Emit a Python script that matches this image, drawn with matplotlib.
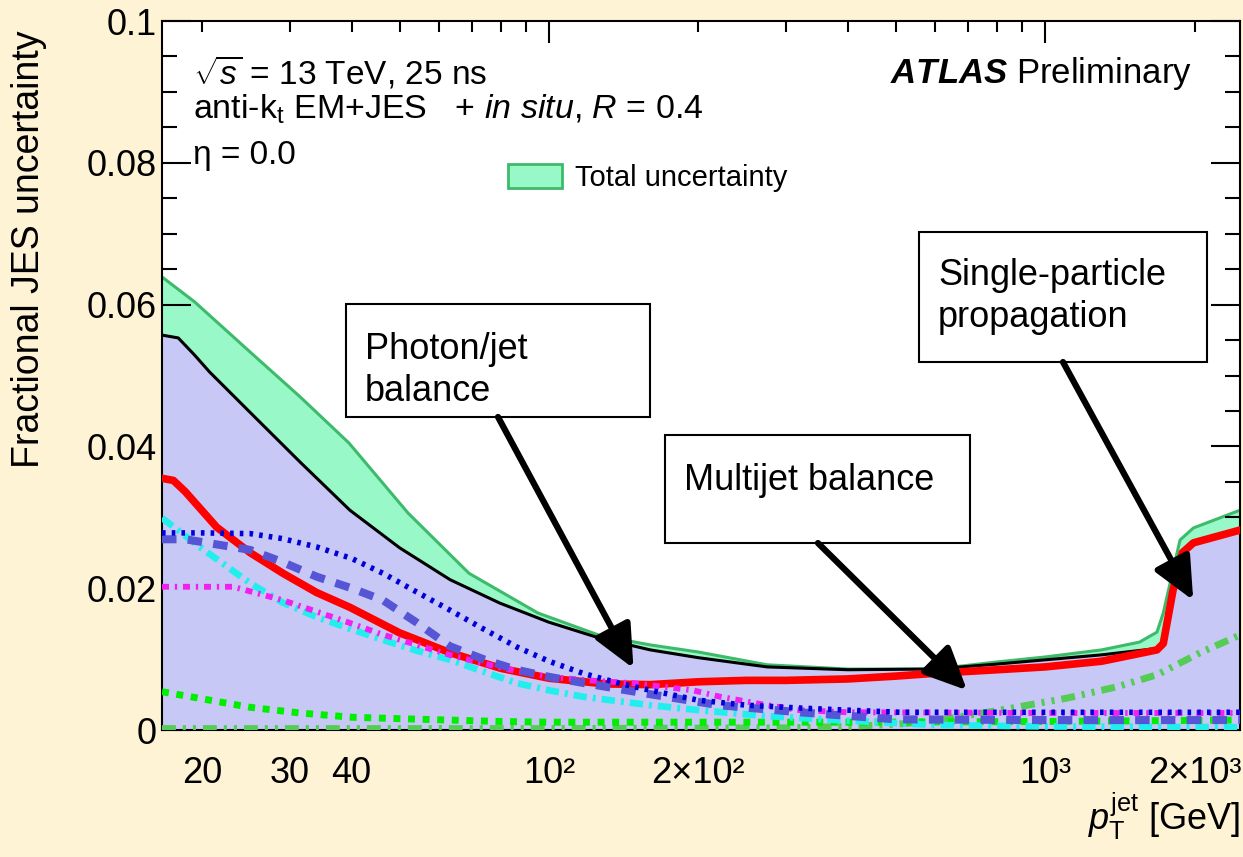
import matplotlib
matplotlib.use('Agg')
import matplotlib.pyplot as plt
import numpy as np
from matplotlib.patches import Patch, Rectangle
from matplotlib.ticker import FixedLocator, FixedFormatter, MultipleLocator, FuncFormatter

plt.rcParams['font.family'] = ['Liberation Sans', 'DejaVu Sans']
plt.rcParams['mathtext.fontset'] = 'custom'
plt.rcParams['mathtext.rm'] = 'Liberation Sans'
plt.rcParams['mathtext.it'] = 'Liberation Sans:italic'
plt.rcParams['mathtext.bf'] = 'Liberation Sans:bold'
plt.rcParams['mathtext.bfit'] = 'Liberation Sans:italic:bold'

# ---- data (pT in GeV, fractional uncertainty) ----
pt_total = [16.6, 19.3, 25, 31.5, 39.5, 52, 69, 95, 127, 160, 200, 275, 400, 600,
            800, 1000, 1300, 1550, 1680, 1730, 1810, 1870, 1990, 2470]
total = [0.0639, 0.0604, 0.0533, 0.0470, 0.0405, 0.0306, 0.0221, 0.0165, 0.0133,
         0.0120, 0.0110, 0.0092, 0.0086, 0.0086, 0.0096, 0.0103, 0.0113, 0.0124,
         0.0138, 0.0165, 0.0225, 0.0268, 0.0285, 0.0310]

pt_insitu = [16.6, 17.9, 19.3, 20.7, 24.9, 31.5, 39.7, 50, 63.2, 79.6, 100, 126, 160,
             200, 275, 400, 600, 800, 1000, 1300, 1680, 1730, 1810, 1890, 1990, 2470]
insitu = [0.0557, 0.0553, 0.0529, 0.0505, 0.0449, 0.0378, 0.0310, 0.0257, 0.0212,
          0.0179, 0.0152, 0.0130, 0.0113, 0.0102, 0.0089, 0.0085, 0.0086, 0.0093,
          0.0099, 0.0106, 0.0115, 0.0124, 0.0199, 0.0252, 0.0266, 0.0284]

pt_red = [16.6, 17.5, 18.5, 21.4, 25, 29.1, 34, 39.7, 50, 63.2, 80, 100, 130, 160, 200,
          250, 300, 400, 500, 600, 800, 1000, 1300, 1680, 1730, 1810, 1890, 1990, 2470]
red = [0.0355, 0.0352, 0.0336, 0.0286, 0.0250, 0.0221, 0.0194, 0.0173, 0.0137, 0.0109,
       0.0087, 0.0073, 0.0065, 0.0064, 0.0068, 0.0070, 0.0070, 0.0072, 0.0076,
       0.0080, 0.0085, 0.0089, 0.0097, 0.0113, 0.0122, 0.0197, 0.0250, 0.0264, 0.0282]

pt_bdot = [16.6, 20, 25, 29, 34.1, 40, 46.3, 54, 63.2, 74, 86.2, 100, 117, 140, 160,
           200, 250, 320, 400, 510, 1000, 2470]
bdot = [0.0278, 0.0278, 0.0277, 0.0270, 0.0258, 0.0242, 0.0221, 0.0195, 0.0169,
        0.0142, 0.0117, 0.0097, 0.0080, 0.0065, 0.0056, 0.0042, 0.0035, 0.0031,
        0.0028, 0.0025, 0.0025, 0.0025]

pt_slate = [16.6, 18.5, 25, 29, 34.1, 40, 46.3, 54, 63.2, 75, 86, 100, 118, 155, 220,
            320, 500, 1000, 2470]
slate = [0.0269, 0.0269, 0.0254, 0.0237, 0.0216, 0.0200, 0.0183, 0.0152, 0.0118,
         0.0098, 0.0085, 0.0075, 0.0066, 0.0052, 0.0035, 0.0025, 0.0015, 0.0014, 0.0014]

pt_cyan = [16.6, 19.8, 25, 29, 34.1, 40, 46.3, 54, 63.2, 74, 86.2, 100, 117, 160, 200,
           270, 380, 600, 1000, 2470]
cyan = [0.0299, 0.0258, 0.0207, 0.0180, 0.0159, 0.0142, 0.0127, 0.0112, 0.0099,
        0.0082, 0.0066, 0.0056, 0.0047, 0.0035, 0.0028, 0.0020, 0.0014, 0.0007,
        0.0005, 0.0004]

pt_mag = [16.6, 23.1, 29.1, 34, 39.7, 46, 54.2, 63, 73.6, 86, 100, 120, 148, 195, 221,
          270, 320, 400, 1000, 2470]
mag = [0.0202, 0.0202, 0.0183, 0.0167, 0.0151, 0.0135, 0.0120, 0.0106, 0.0094,
       0.0083, 0.0075, 0.0070, 0.0066, 0.0056, 0.0047, 0.0036, 0.0028, 0.0025,
       0.0024, 0.0024]

pt_gdot = [16.6, 20, 25, 31.5, 40, 50, 63, 80, 100, 160, 400, 1000, 2470]
gdot = [0.0054, 0.0044, 0.0032, 0.0024, 0.0018, 0.0016, 0.0014, 0.0012, 0.0011,
        0.0011, 0.0011, 0.0012, 0.0014]

pt_gdd = [16.6, 100, 300, 400, 500, 600, 811, 1107, 1397, 1682, 2053, 2470]
gdd = [0.0002, 0.0002, 0.0003, 0.0005, 0.0008, 0.0013, 0.0028, 0.0045, 0.0061,
       0.0078, 0.0109, 0.0134]

# ---- figure ----
cream = '#FFF3D6'
fig = plt.figure(figsize=(12.43, 8.57), dpi=100, facecolor=cream)
ax = fig.add_axes([0.13033, 0.14819, 0.86726, 0.82730])
ax.set_facecolor('white')

ax.fill_between(pt_total, 0, total, facecolor='#99F8C8', edgecolor='none', zorder=1)
ax.plot(pt_total, total, color='#3DBB6B', lw=2.2, zorder=1.5)
ax.fill_between(pt_insitu, 0, insitu, facecolor='#C8C8F6', edgecolor='none', zorder=2)
ax.plot(pt_insitu, insitu, color='black', lw=2.2, zorder=2.5)

ax.plot(pt_red, red, color='#FF0000', lw=5.5, zorder=3)
ax.plot(pt_gdd, gdd, color='#55CC55', lw=5, zorder=3.1,
        linestyle=(0, (2.0, 1.0, 0.45, 1.0, 0.45, 1.0)))
ax.plot(pt_gdot, gdot, color='#00EE00', lw=5, zorder=3.2, linestyle=(0, (1.0, 1.1)))
ax.plot(pt_cyan, cyan, color='#22EEEE', lw=4.8, zorder=3.3,
        linestyle=(0, (2.0, 0.9, 0.45, 0.9)))
ax.plot(pt_mag, mag, color='#F020F0', lw=4.2, zorder=3.4,
        linestyle=(0, (1.2, 1.0, 0.4, 1.0)))
ax.plot(pt_slate, slate, color='#5555D5', lw=5.8, zorder=3.5, linestyle=(0, (1.8, 1.4)))
ax.plot(pt_bdot, bdot, color='#0000DD', lw=4.0, zorder=3.6, linestyle=(0, (0.65, 1.1)))

# ---- axes ----
ax.set_xscale('log')
ax.set_xlim(16.6, 2470)
ax.set_ylim(0, 0.1)

ax.xaxis.set_major_locator(FixedLocator([100, 1000]))
ax.xaxis.set_major_formatter(FixedFormatter(['10²', '10³']))
minor_pos = [k * 10 ** e for e in (1, 2, 3) for k in range(2, 10)]
minor_lab = {20: '20', 30: '30', 40: '40', 200: '2×10²', 2000: '2×10³'}
ax.xaxis.set_minor_locator(FixedLocator(minor_pos))
ax.xaxis.set_minor_formatter(FuncFormatter(lambda v, p: minor_lab.get(int(round(v)), '')))

ax.yaxis.set_major_locator(MultipleLocator(0.02))
ax.yaxis.set_minor_locator(MultipleLocator(0.005))
ax.yaxis.set_major_formatter(FuncFormatter(lambda v, p: '%g' % round(v, 3)))

ax.tick_params(which='both', direction='in', top=True, right=True, width=1.5,
               labelsize=26, colors='black')
ax.tick_params(axis='y', which='major', length=21, pad=4)
ax.tick_params(axis='y', which='minor', length=11)
ax.tick_params(axis='x', which='major', length=16, pad=19)
ax.tick_params(axis='x', which='minor', length=8, pad=19)
for s in ax.spines.values():
    s.set_linewidth(1.5)

ax.set_ylabel('Fractional JES uncertainty', fontsize=27, loc='top')
ax.yaxis.set_label_coords(-0.107, 0.987)
ax.set_xlabel(r'$p_{\mathrm{T}}^{\mathrm{jet}}$ [GeV]', fontsize=26, loc='right')
ax.xaxis.set_label_coords(1.0, -0.085)

# ---- labels ----
ax.text(0.029, 0.9125, r'$\sqrt{s}$ = 13 TeV, 25 ns', transform=ax.transAxes,
        fontsize=24, va='baseline')
ax.text(0.029, 0.8618, r'anti-k$_{\mathrm{t}}$ EM+JES   + $\mathit{in\ situ}$, $\mathit{R}$ = 0.4',
        transform=ax.transAxes, fontsize=24.5, va='baseline')
ax.text(0.029, 0.798, 'η = 0.0', transform=ax.transAxes, fontsize=24, va='baseline')
ax.text(0.9555, 0.9125, r'$\mathbfit{ATLAS}$ Preliminary', transform=ax.transAxes,
        fontsize=25, ha='right', va='baseline')

ax.legend(handles=[Patch(facecolor='#99F8C8', edgecolor='#3DBB6B', lw=2,
                         label='Total uncertainty')],
          loc='center left', bbox_to_anchor=(0.321, 0.7786), frameon=False,
          fontsize=21, borderpad=0, borderaxespad=0, handlelength=1.85,
          handleheight=0.86, handletextpad=0.45)

# ---- boxes with arrows ----
boxes = [((0.1707, 0.4415, 0.2820, 0.1593), (0.1883, 0.5614), 'Photon/jet\nbalance'),
         ((0.4666, 0.2637, 0.2829, 0.1524), (0.4842, 0.3766), 'Multijet balance'),
         ((0.7022, 0.5190, 0.2672, 0.1834), (0.7199, 0.6657), 'Single-particle\npropagation')]
for (x0, y0, w, h), (tx, ty), txt in boxes:
    ax.add_patch(Rectangle((x0, y0), w, h, transform=ax.transAxes, facecolor='white',
                           edgecolor='black', lw=1.5, zorder=5))
    ax.text(tx, ty, txt, transform=ax.transAxes, fontsize=26, va='top', ha='left',
            linespacing=1.25, zorder=6)

arrows = [((148, 0.0087), (0.3117, 0.4415)),
          ((696, 0.0056), (0.6085, 0.2637)),
          ((1988, 0.0183), (0.8358, 0.5190))]
for tip, tail in arrows:
    ax.annotate('', xy=tip, xycoords='data', xytext=tail, textcoords='axes fraction',
                zorder=6,
                arrowprops=dict(arrowstyle='-|>,head_length=0.52,head_width=0.24',
                                mutation_scale=50, lw=4.5, color='black',
                                shrinkA=0, shrinkB=0))

fig.savefig('out.png', dpi=100, facecolor=cream)
